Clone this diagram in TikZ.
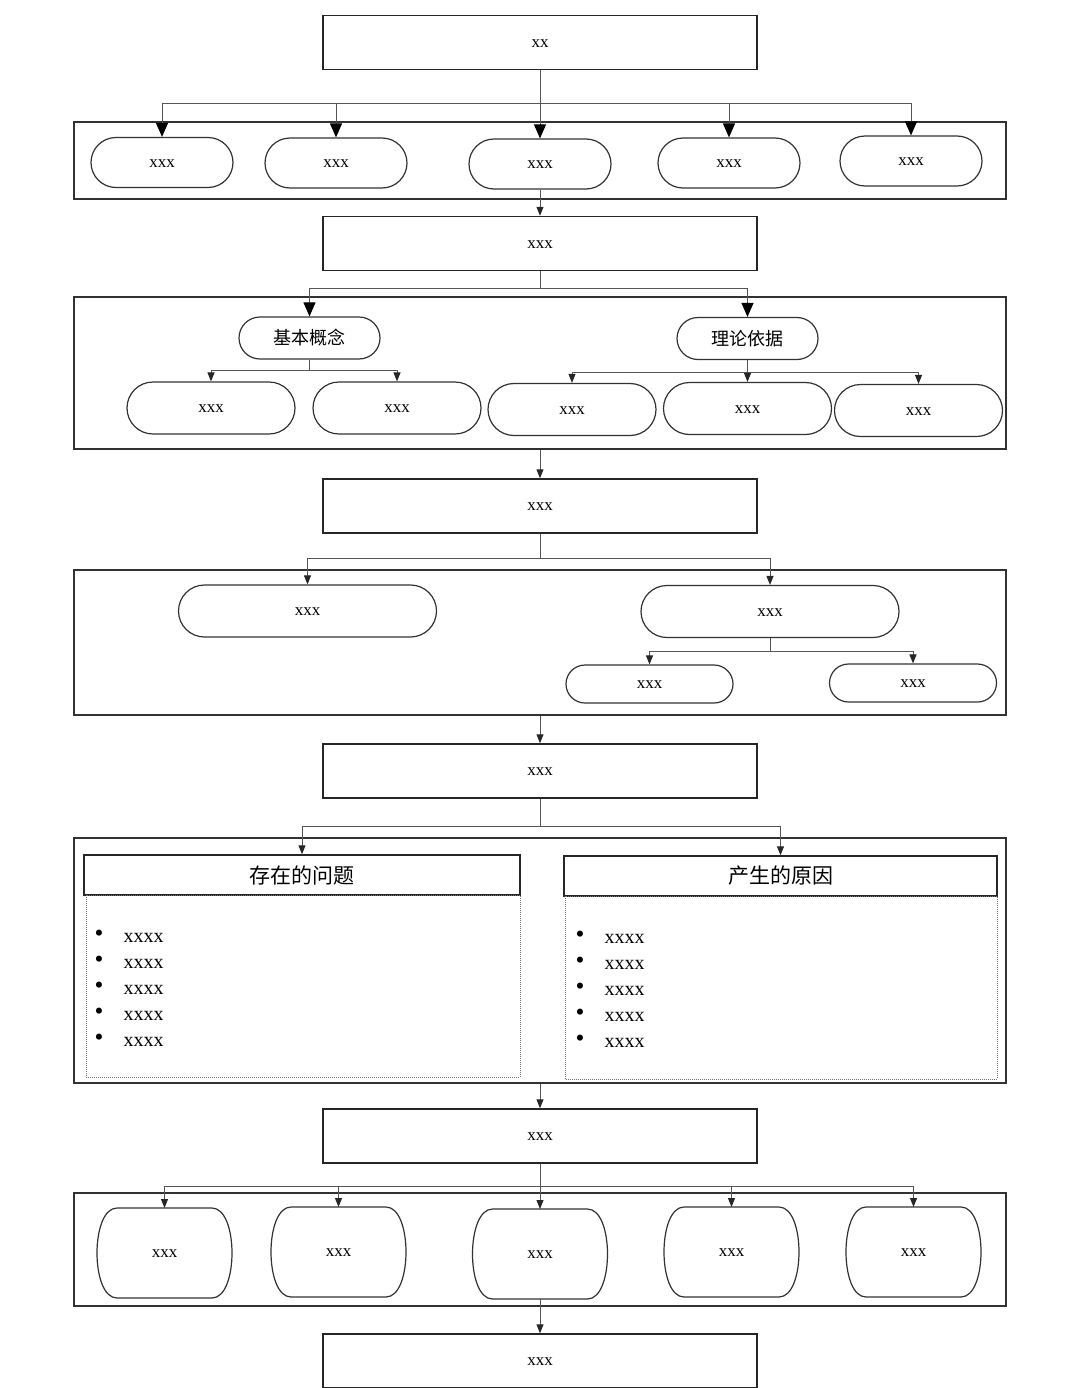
\documentclass[tikz,border=0pt]{standalone}
\usepackage{fontspec}
\setmainfont{Liberation Serif}
\newfontfamily\cjk{Noto Sans CJK SC}
\usetikzlibrary{arrows.meta,shapes.misc}

\definecolor{linegray}{RGB}{50,50,50}
\definecolor{wiregray}{RGB}{85,85,85}

\tikzset{every picture/.style={line width=0.75pt}}
\tikzset{
  box/.style={draw=black!85, line width=1.1pt, minimum width=325.5pt, minimum height=40.5pt, inner sep=0pt, text height=7pt, font=\fontsize{12.75pt}{15pt}\selectfont},
  outerbox/.style={draw=linegray, line width=1.2pt, minimum width=699pt, inner sep=0pt},
  pill/.style={draw=linegray, line width=0.9pt, rounded rectangle, inner sep=0pt, font=\fontsize{12.75pt}{15pt}\selectfont},
  pillrow/.style={pill, minimum width=106.5pt, minimum height=37.5pt, text height=7pt},
  pillsub/.style={pill, minimum width=126pt, minimum height=39pt, text height=7pt},
  pillhead/.style={pill, minimum width=105.75pt, minimum height=31.5pt, font=\cjk\fontsize{13.5pt}{16pt}\selectfont},
  pillwide/.style={pill, minimum width=193.5pt, minimum height=39pt, text height=7pt},
  pilllow/.style={pill, minimum width=125.25pt, minimum height=28.5pt, text height=7pt},
  headbox/.style={draw=black!85, line width=1.1pt, minimum height=30pt, inner sep=0pt, font=\cjk\fontsize{15.75pt}{18pt}\selectfont},
  bodyline/.style={draw=black!55, line width=0.5pt, densely dotted},
  listitem/.style={anchor=west, inner sep=0pt, font=\fontsize{15pt}{18pt}\selectfont},
  barrel/.style={minimum width=101.25pt, minimum height=67.5pt, inner sep=0pt, outer sep=0pt, text height=7pt, font=\fontsize{12.75pt}{15pt}\selectfont},
  barrelline/.style={draw=linegray, line width=0.9pt},
  wire/.style={draw=wiregray, line width=0.75pt},
  bigarr/.style={wire, -{Triangle[length=10.5pt,width=9pt,color=black]}},
  smallarr/.style={wire, -{Triangle[length=6.75pt,width=5.25pt,color=black!85]}},
}
\newcommand{\dotmark}{\makebox[21.75pt][l]{\raisebox{0.5pt}{\fontsize{19pt}{19pt}\selectfont\textbullet}}}

\begin{document}
\begin{tikzpicture}[x=0.75pt,y=0.75pt,yscale=-1,xscale=1]
	\useasboundingbox (0,0) rectangle (1080,1388);

	%Shape: Rectangle -- outer frames
	\node[outerbox, minimum height=57.75pt] (f1) at (540,160.5) {};
	\node[outerbox, minimum height=114pt] (f2) at (540,373) {};
	\node[outerbox, minimum height=108.75pt] (f3) at (540,642.5) {};
	\node[outerbox, minimum height=183.75pt] (f4) at (540,960.5) {};
	\node[outerbox, minimum height=84.75pt] (f5) at (540,1249.5) {};

	% Text Node -- main boxes
	\node[box] (b1) at (540,42.5) {xx};
	\node[box] (b2) at (540,243.5) {xxx};
	\node[box] (b3) at (540,506) {xxx};
	\node[box] (b4) at (540,771) {xxx};
	\node[box] (b5) at (540,1136) {xxx};
	\node[box] (b6) at (540,1361) {xxx};

	% Text Node -- row 1
	\node[pillrow] (p1a) at (162,162.5) {xxx};
	\node[pillrow] (p1b) at (336,163) {xxx};
	\node[pillrow] (p1c) at (540,164) {xxx};
	\node[pillrow] (p1d) at (729,163) {xxx};
	\node[pillrow] (p1e) at (911,161) {xxx};

	%Straight Lines
	\coordinate (j1) at (540,103);
	\draw[wire] (b1.south) -- (j1);
	\foreach \n in {p1a,p1b,p1c,p1d,p1e}
		\draw[bigarr] (j1) -| (\n.north);
	\draw[smallarr] (p1c.south) -- (b2.north);

	% Text Node -- row 2
	\node[pillhead] (c1) at (309.5,338) {基本概念};
	\node[pillhead] (c2) at (747.5,338.5) {理论依据};
	\node[pillsub] (p2a) at (211,408) {xxx};
	\node[pillsub] (p2b) at (397,408) {xxx};
	\node[pillsub] (p2c) at (572,409.5) {xxx};
	\node[pillsub] (p2d) at (747.5,408.5) {xxx};
	\node[pillsub] (p2e) at (918.5,410.5) {xxx};

	%Straight Lines
	\coordinate (j2) at (540,288);
	\draw[wire] (b2.south) -- (j2);
	\draw[bigarr] (j2) -| (c1.north);
	\draw[bigarr] (j2) -| (c2.north);
	\coordinate (j3) at (309.5,370);
	\draw[wire] (c1.south) -- (j3);
	\foreach \n in {p2a,p2b}
		\draw[smallarr] (j3) -| (\n.north);
	\coordinate (j4) at (747.5,372);
	\draw[wire] (c2.south) -- (j4);
	\foreach \n in {p2c,p2d,p2e}
		\draw[smallarr] (j4) -| (\n.north);
	\draw[smallarr] (f2.south) -- (b3.north);

	% Text Node -- row 3
	\node[pillwide] (p3a) at (307.5,611) {xxx};
	\node[pillwide] (p3b) at (770,611.5) {xxx};
	\node[pilllow] (p3c) at (649.5,684) {xxx};
	\node[pilllow] (p3d) at (913,683) {xxx};

	%Straight Lines
	\coordinate (j5) at (540,558);
	\draw[wire] (b3.south) -- (j5);
	\draw[smallarr] (j5) -| (p3a.north);
	\draw[smallarr] (j5) -| (p3b.north);
	\coordinate (j6) at (770,651);
	\draw[wire] (p3b.south) -- (j6);
	\draw[smallarr] (j6) -| (p3c.north);
	\draw[smallarr] (j6) -| (p3d.north);
	\draw[smallarr] (f3.south) -- (b4.north);

	% Text Node -- row 4
	\node[headbox, minimum width=327pt] (h1) at (302,875) {存在的问题};
	\node[headbox, minimum width=324.75pt] (h2) at (780.5,876) {产生的原因};
	\draw[bodyline] (86,895) rectangle (520,1077);
	\draw[bodyline] (565,896) rectangle (997,1079);
	\foreach \y [count=\i] in {936,962,988,1014,1040} {
		\node[listitem] (q\i) at (94,\y) {\dotmark xxxx};
		\node[listitem] (r\i) at (575,\y+1) {\dotmark xxxx};
	}

	%Straight Lines
	\coordinate (j7) at (540,826);
	\draw[wire] (b4.south) -- (j7);
	\draw[smallarr] (j7) -| (h1.north);
	\draw[smallarr] (j7) -| (h2.north);
	\draw[smallarr] (f4.south) -- (b5.north);

	% Text Node -- row 5
	\node[barrel] (s1) at (164.5,1253) {xxx};
	\node[barrel] (s2) at (338.5,1252) {xxx};
	\node[barrel] (s3) at (540,1254) {xxx};
	\node[barrel] (s4) at (731.5,1252) {xxx};
	\node[barrel] (s5) at (913.5,1252) {xxx};
	\foreach \n in {s1,s2,s3,s4,s5}
		\draw[barrelline] ([xshift=15pt]\n.north west) -- ([xshift=-15pt]\n.north east)
			.. controls ([xshift=5pt]\n.north east) and ([xshift=5pt]\n.south east) .. ([xshift=-15pt]\n.south east)
			-- ([xshift=15pt]\n.south west)
			.. controls ([xshift=-5pt]\n.south west) and ([xshift=-5pt]\n.north west) .. cycle;

	%Straight Lines
	\coordinate (j8) at (540,1186);
	\draw[wire] (b5.south) -- (j8);
	\foreach \n in {s1,s2,s3,s4,s5}
		\draw[smallarr] (j8) -| (\n.north);
	\draw[smallarr] (s3.south) -- (b6.north);

\end{tikzpicture}
\end{document}
